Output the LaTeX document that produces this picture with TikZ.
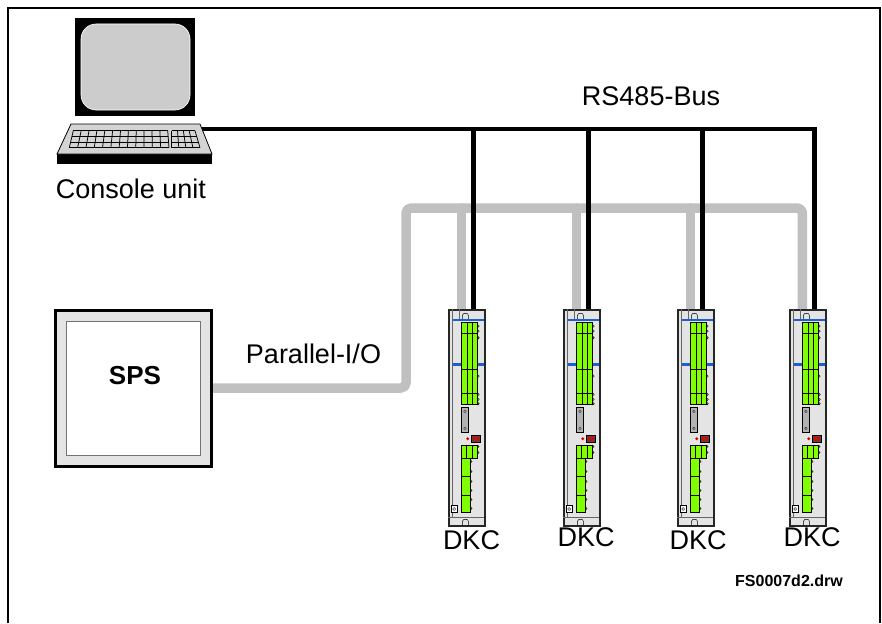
\documentclass[tikz,border=0pt]{standalone}
\usepackage{fontspec}
\setmainfont{Liberation Sans}
\usetikzlibrary{calc}

\definecolor{busgray}{HTML}{C0C0C0}
\definecolor{screengray}{HTML}{CCCCCC}
\definecolor{kbdgray}{HTML}{D4D4D4}
\definecolor{panelgray}{HTML}{E4E4E4}
\definecolor{termgreen}{HTML}{80FF00}
\definecolor{stripblue}{HTML}{1A5FD8}
\definecolor{ledred}{HTML}{E00000}

\pgfdeclarelayer{bg}
\pgfsetlayers{bg,main}

\tikzset{
  lbl/.style={font=\fontsize{27}{31}\selectfont, inner sep=0pt, anchor=base},
  rsbus/.style={line width=4.5pt, black},
  piobus/.style={line width=9.5pt, busgray, line join=round},
  spsouter/.style={draw=black, line width=3pt, fill=panelgray, minimum size=156pt, inner sep=0pt},
  spsinner/.style={draw=black!55, line width=0.8pt, fill=white, minimum size=134pt, inner sep=0pt},
  dkc/.style={draw=black!85, fill=panelgray, line width=1.1pt, minimum width=36pt, minimum height=216pt, inner sep=0pt},
  thin/.style={line width=0.5pt},
  keyline/.style={line width=0.75pt},
  pics/drive/.style={code={
    % side rail, top divider and bottom ledge
    \draw[black!60, line width=0.7pt] (4,0) -- (4,208);
    \draw[black!60, line width=0.7pt] (0,208) -- (36,208);
    \draw[black!60, line width=0.7pt] (11,0) -- (11,10);
    % cable entry notches
    \draw[thin] (14,10) -- (14,6) .. controls (14,3) and (20,3) .. (20,6) -- (20,10);
    \draw[thin] (14,216) -- (14,212) .. controls (14,209) and (20,209) .. (20,212) -- (20,216);
    % blue strips
    \draw[stripblue, line width=2.5pt] (4.5,10.5) -- (35.5,10.5);
    \draw[stripblue, line width=2.5pt] (4.5,55) -- (35.5,55);
    % upper terminal block
    \foreach \y in {16.7,21.7,28.3,66.7,85,90,94.3}
      \draw[fill=termgreen, line width=0.4pt] (29.5,\y) circle (1.3);
    \draw[fill=termgreen, line width=0.7pt] (13,13) rectangle (29,95);
    \draw[thin] (19,13) -- (19,95) (24,13) -- (24,95)
                (13,24) -- (29,24) (13,60) -- (29,60) (13,84) -- (29,84);
    % cover plate with screws
    \draw[fill=black!30, line width=0.6pt] (13,98) rectangle (20,123);
    \draw[fill=white, line width=0.4pt] (16.5,102) circle (1.2) (16.5,119) circle (1.2);
    % status LED and display
    \fill[ledred] (19.3,129.3) circle (1.6);
    \draw[fill=black!70, line width=0.4pt] (22.7,126) rectangle (32,132.7);
    \fill[ledred] (24.2,127.2) rectangle (26.8,131.5) (28,127.2) rectangle (30.6,131.5);
    % lower terminal block
    \foreach \y in {137,143}
      \draw[fill=termgreen, line width=0.4pt] (29.3,\y) circle (1.3);
    \foreach \y in {152,162,172,181,190,199}
      \draw[fill=termgreen, line width=0.4pt] (22.3,\y) circle (1.3);
    \draw[fill=termgreen, line width=0.7pt] (12.7,135.7) rectangle (29.3,149.3);
    \draw[thin] (18,135.7) -- (18,149.3) (23.5,135.7) -- (23.5,149.3);
    \draw[fill=termgreen, line width=0.7pt] (12.7,149.3) rectangle (22,203.3);
    \draw[thin] (12.7,166.7) -- (22,166.7) (12.7,186) -- (22,186);
    % fixing screw
    \draw[fill=white, line width=0.5pt] (2.7,196) rectangle (8.7,203);
    \draw[line width=0.4pt] (5.7,199.5) circle (1.5);
  }}
}

\begin{document}
\begin{tikzpicture}[x=1pt,y=-1pt]
\useasboundingbox (0,0) rectangle (882,623);

% frame, open at the bottom
\draw[line width=2pt] (8,623) -- (8,8) -- (880,8) -- (880,623);

% console unit: monitor
\fill[black] (75,18) rectangle (195,116);
\draw[white, line width=0.6pt, fill=screengray, rounded corners=15pt] (81,24) rectangle (190,110);
% console unit: keyboard
\fill[black] (57,153) rectangle (212,164);
\draw[fill=kbdgray, line width=0.8pt] (57,154) -- (71,124) -- (200,124) -- (212,154) -- cycle;
\foreach \i in {0,...,12}
  \draw[keyline] ({73.3+\i*7.867},130.7) -- ({69.3+\i*8.308},147.7);
\foreach \j in {0,...,3}
  \draw[keyline] ({73.3-\j*1.333},{130.7+\j*5.667}) -- ({167.7+\j*0.433},{130.7+\j*5.667});
\foreach \i in {0,...,4}
  \draw[keyline] ({171.7+\i*5.825},130.7) -- ({171.7+\i*7.075},147.7);
\foreach \j in {0,...,3}
  \draw[keyline] (171.7,{130.7+\j*5.667}) -- ({195+\j*1.667},{130.7+\j*5.667});
\coordinate (port) at (202,129);
\node[lbl] (console) at (131,198) {Console unit};

% PLC
\node[spsouter] (sps) at (133.5,388) {};
\node[spsinner] (spsin) at (sps.center) {};
\node[lbl, font=\fontsize{26}{30}\selectfont\bfseries] (spslbl) at (135,384) {SPS};

% drive controllers
\node[dkc] (d1) at (467,418) {};
\node[dkc] (d2) at (582,418) {};
\node[dkc] (d3) at (696,418) {};
\node[dkc] (d4) at (808,418) {};
\foreach \d in {d1,d2,d3,d4} {
  \pic at (\d.north west) {drive};
  \coordinate (\d-rs) at ($(\d.north west)+(25,0)$);
  \coordinate (\d-io) at ($(\d.north west)+(13,0)$);
}
\node[lbl] (l1) at (471.5,549) {DKC};
\node[lbl] (l2) at (586,546) {DKC};
\node[lbl] (l3) at (698,549) {DKC};
\node[lbl] (l4) at (812,546) {DKC};

% bus wiring behind the devices
\coordinate (iorail) at (0,208);
\begin{pgfonlayer}{bg}
  \draw[piobus, rounded corners=5pt] (sps.east) -- (406,388) -- (406,208) -- (d4-io |- iorail) -- (d4-io);
  \foreach \d in {d1,d2,d3}
    \draw[piobus, line cap=round] (\d-io |- iorail) -- (\d-io);
  \draw[rsbus] (port) -| (d4-rs);
  \foreach \d in {d1,d2,d3}
    \draw[rsbus] (\d-rs |- port) -- (\d-rs);
\end{pgfonlayer}

\node[lbl] (rslbl) at (651,106) {RS485-Bus};
\node[lbl] (iolbl) at (313.5,363) {Parallel-I/O};
\node[lbl, font=\fontsize{16}{19}\selectfont\bfseries] (file) at (789,586) {FS0007d2.drw};
\end{tikzpicture}
\end{document}
